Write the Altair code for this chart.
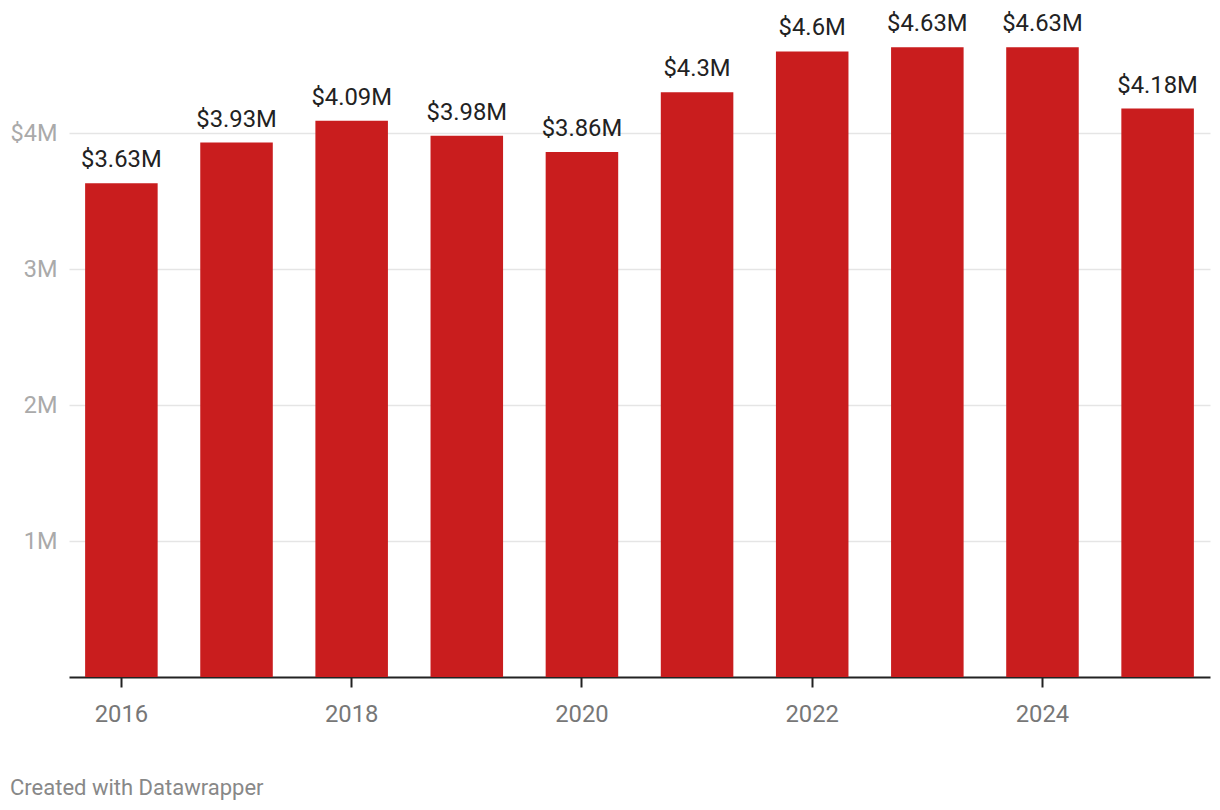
import altair as alt
import pandas as pd

years = [2016, 2017, 2018, 2019, 2020, 2021, 2022, 2023, 2024, 2025]
values = [3.63, 3.93, 4.09, 3.98, 3.86, 4.30, 4.60, 4.63, 4.63, 4.18]
labels = ["$3.63M", "$3.93M", "$4.09M", "$3.98M", "$3.86M", "$4.3M", "$4.6M", "$4.63M", "$4.63M", "$4.18M"]
tick_years = [2016, 2018, 2020, 2022, 2024]
y_ticks = [1e6, 2e6, 3e6, 4e6]

df = pd.DataFrame({"year": years, "value": [v * 1e6 for v in values], "label": labels})

FONT = "Roboto"
W, H = 1141, 653

x = alt.X("year:O", title=None,
          scale=alt.Scale(paddingInner=0.37, paddingOuter=0.14),
          axis=alt.Axis(values=tick_years, labelAngle=0, labelFont=FONT, labelFontSize=23.8,
                        labelColor="#777777", labelPadding=15, tickColor="#222222", tickWidth=2,
                        tickSize=10, domainColor="#222222", domainWidth=2, grid=False))
y = alt.Y("value:Q", title=None,
          scale=alt.Scale(domain=[0, H / 136 * 1e6], nice=False),
          axis=alt.Axis(values=y_ticks, labelFont=FONT, labelFontSize=23.5, labelColor="#aaaaaa",
                        labelExpr="datum.value == 4000000 ? '$4M' : (datum.value/1000000) + 'M'",
                        labelPadding=12, ticks=False, domain=False, gridColor="#e5e5e5", gridWidth=1.5))

base = alt.Chart(df)
bars = base.mark_bar(color="#c91d1e").encode(x=x, y=y)
text = base.mark_text(font=FONT, fontSize=23.8, color="#222222", baseline="alphabetic", dy=-16).encode(
    x=alt.X("year:O"), y=alt.Y("value:Q"), text="label:N")

footer = alt.Chart(pd.DataFrame({"t": ["Created with Datawrapper"]})).mark_text(
    font=FONT, fontSize=22, color="#888888", align="left", baseline="middle").encode(
    x=alt.value(-59), y=alt.value(764), text="t:N")

chart = alt.layer(bars, text, footer).properties(
    width=W, height=H,
    background="white",
    autosize=alt.AutoSizeParams(type="none"),
    padding={"left": 61, "top": 16, "right": 2, "bottom": 123},
).configure_view(strokeWidth=0, stroke="transparent")

chart.save("out.html", embed_options={"renderer": "svg", "actions": False})
